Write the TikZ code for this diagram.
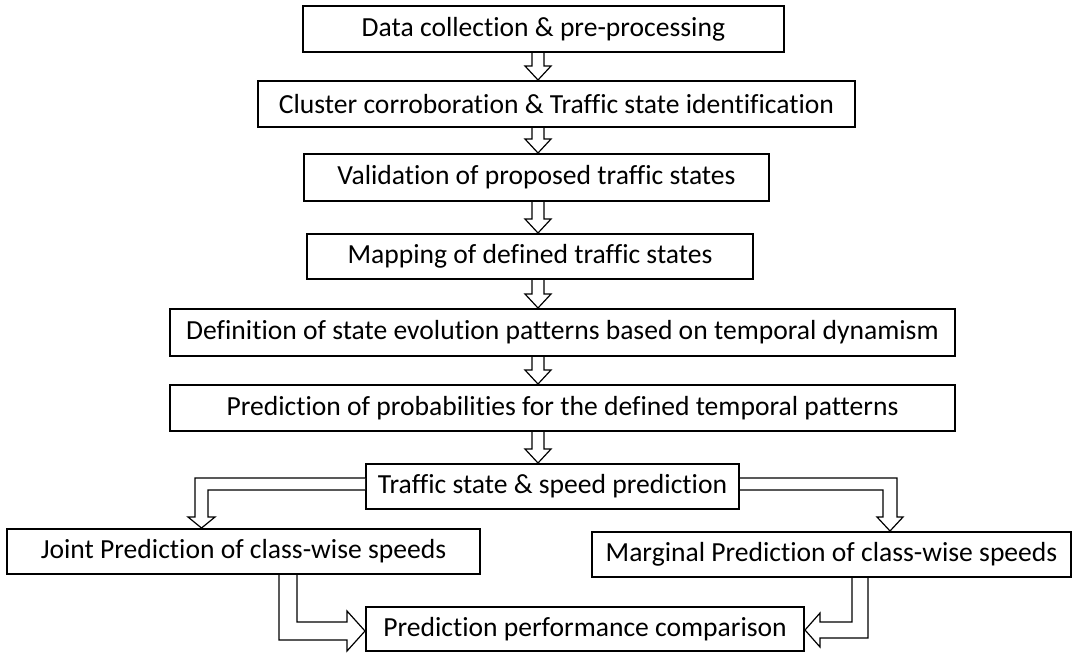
\documentclass[tikz,border=0pt]{standalone}
\usepackage{fontspec}
\setmainfont{Carlito}[Ligatures={NoCommon}]
\usetikzlibrary{calc}
\tikzset{
  box/.style={draw=black, line width=1.5pt, rectangle, inner sep=0pt, font=\fontsize{20.7}{23}\selectfont},
  harrow/.style={draw=black, line width=0.9pt, fill=white, line join=miter},
}
\newcommand\varrow[3]{%
  \draw[harrow] ($(#1 |- #2.south)+(-6,0)$) -- ($(#1 |- #3.north)+(-6,-14)$) -- ++(-7,0)
    -- (#1 |- #3.north) -- ($(#1 |- #3.north)+(13,-14)$) -- ++(-7,0) -- ($(#1 |- #2.south)+(6,0)$);}
\begin{document}
\begin{tikzpicture}[x=0.75pt,y=-0.75pt]
\useasboundingbox (0,0) rectangle (1073,654);
\coordinate (ax) at (538,0);
\node[box, minimum width=481*0.75pt, minimum height=46*0.75pt] (b1) at (543.4,29) {Data collection \& pre-processing};
\node[box, minimum width=597*0.75pt, minimum height=46*0.75pt] (b2) at (556.5,104) {Cluster corroboration \& Traffic state identification};
\node[box, minimum width=465*0.75pt, minimum height=47*0.75pt] (b3) at (536.5,177.5) {Validation of proposed traffic states};
\node[box, minimum width=446*0.75pt, minimum height=45*0.75pt] (b4) at (530,256.5) {Mapping of defined traffic states};
\node[box, minimum width=785*0.75pt, minimum height=47*0.75pt] (b5) at (562.5,332.5) {Definition of state evolution patterns based on temporal dynamism};
\node[box, minimum width=785*0.75pt, minimum height=46*0.75pt] (b6) at (562.5,408) {Prediction of probabilities for the defined temporal patterns};
\node[box, minimum width=373*0.75pt, minimum height=45*0.75pt] (b7) at (552.5,486.5) {Traffic state \& speed prediction};
\node[box, minimum width=473*0.75pt, minimum height=45*0.75pt] (b8) at (243.5,551.5) {Joint Prediction of class-wise speeds};
\node[box, minimum width=479*0.75pt, minimum height=45*0.75pt] (b9) at (831.5,554.5) {Marginal Prediction of class-wise speeds};
\node[box, minimum width=438*0.75pt, minimum height=44*0.75pt] (b10) at (585,629) {Prediction performance comparison};
\varrow{ax}{b1}{b2}
\varrow{ax}{b2}{b3}
\varrow{ax}{b3}{b4}
\varrow{ax}{b4}{b5}
\varrow{ax}{b5}{b6}
\varrow{ax}{b6}{b7}
% left split arrow
\draw[harrow] (b7.west |- 0,478) -- (195,478) -- (195,517) -- (188,517) -- (201.5,0 |- b8.north)
  -- (215,517) -- (208,517) -- (208,490) -- (b7.west |- 0,490);
% right split arrow
\draw[harrow] (b7.east |- 0,478) -- (897,478) -- (897,517) -- (903,517) -- (890,0 |- b9.north)
  -- (877,517) -- (883,517) -- (883,490) -- (b7.east |- 0,490);
% bottom left merge arrow
\draw[harrow] (279,0 |- b8.south) -- (279,640) -- (347,640) -- (347,651) -- (b10.west |- 0,631)
  -- (347,611) -- (347,622) -- (297,622) -- (297,0 |- b8.south);
% bottom right merge arrow
\draw[harrow] (852,0 |- b9.south) -- (852,622) -- (820,622) -- (820,613) -- (b10.east |- 0,630)
  -- (820,647) -- (820,638) -- (868,638) -- (868,0 |- b9.south);
\end{tikzpicture}
\end{document}
